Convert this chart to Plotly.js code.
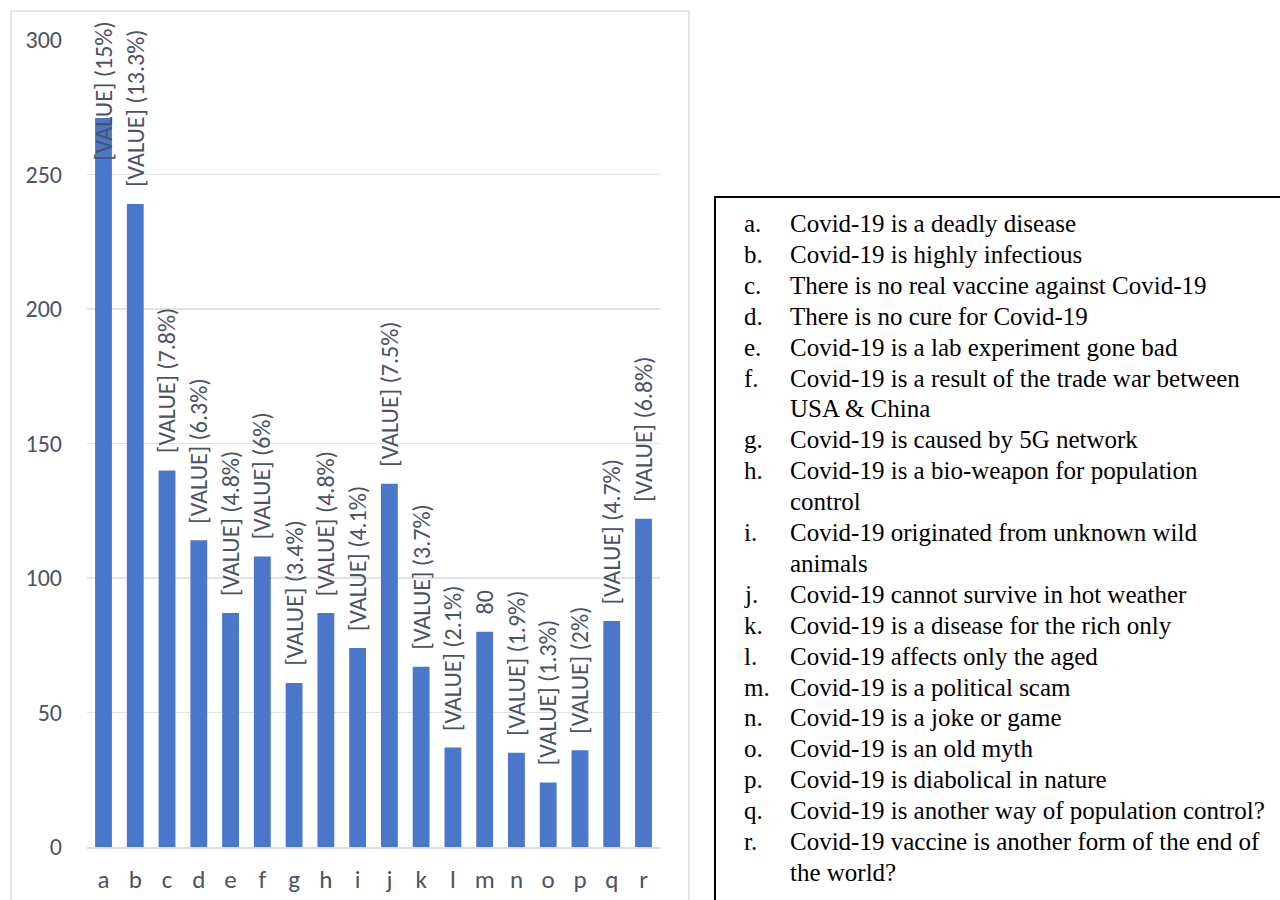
<!DOCTYPE html>
<html>
<head>
<meta charset="utf-8">
<script src="https://cdn.plot.ly/plotly-3.0.1.min.js"></script>
<style>html,body{margin:0;padding:0;background:#fff;}#chart{width:1280px;height:900px;}</style>
</head>
<body>
<div id="chart"></div>
<script>
// ---- data ----
const categories = ["a","b","c","d","e","f","g","h","i","j","k","l","m","n","o","p","q","r"];
const counts = [271,239,140,114,87,108,61,87,74,135,67,37,80,35,24,36,84,122];
const dataLabels = ["[VALUE] (15%)","[VALUE] (13.3%)","[VALUE] (7.8%)","[VALUE] (6.3%)","[VALUE] (4.8%)","[VALUE] (6%)","[VALUE] (3.4%)","[VALUE] (4.8%)","[VALUE] (4.1%)","[VALUE] (7.5%)","[VALUE] (3.7%)","[VALUE] (2.1%)","80","[VALUE] (1.9%)","[VALUE] (1.3%)","[VALUE] (2%)","[VALUE] (4.7%)","[VALUE] (6.8%)"];
const yTicks = [0,50,100,150,200,250,300];
const statements = [
  "Covid-19 is a deadly disease",
  "Covid-19 is highly infectious",
  "There is no real vaccine against Covid-19",
  "There is no cure for Covid-19",
  "Covid-19 is a lab experiment gone bad",
  "Covid-19 is a result of the trade war between\nUSA & China",
  "Covid-19 is caused by 5G network",
  "Covid-19 is a bio-weapon for population\ncontrol",
  "Covid-19 originated from unknown wild\nanimals",
  "Covid-19 cannot survive in hot weather",
  "Covid-19 is a disease for the rich only",
  "Covid-19 affects only the aged",
  "Covid-19 is a political scam",
  "Covid-19 is a joke or game",
  "Covid-19 is an old myth",
  "Covid-19 is diabolical in nature",
  "Covid-19 is another way of population control?",
  "Covid-19 vaccine is another form of the end of\nthe world?"
];

// ---- layout geometry (pixels) ----
const W = 1280, H = 900;
const PL = 87, PR = 660, PT = 40, PB = 847;
const pxX = x => (x - PL) / (PR - PL);
const pxY = y => (PB - y) / (PB - PT);

const tickColor = "#4b5364";
const labelFont = "Carlito, Lato, 'Open Sans', sans-serif";

const annotations = [];
// data labels above bars
categories.forEach((c, i) => {
  annotations.push({
    x: c, y: counts[i], xref: "x", yref: "y",
    text: dataLabels[i], textangle: -90, showarrow: false,
    xanchor: "center", yanchor: "bottom", yshift: 15,
    font: {family: labelFont, size: 24, color: tickColor}
  });
});
const nData = annotations.length;

// statement list in the right-hand box
const serif = "'Liberation Serif', 'Times New Roman', serif";
let row = 0;
const firstRowY = 223.5, rowH = 30.9;
categories.forEach((c, i) => {
  const lines = statements[i].split("\n");
  annotations.push({
    x: pxX(742), y: pxY(firstRowY + row * rowH), xref: "paper", yref: "paper",
    text: c + ".", showarrow: false, xanchor: "left", yanchor: "middle",
    font: {family: serif, size: 25, color: "#000"}
  });
  lines.forEach(line => {
    annotations.push({
      x: pxX(788), y: pxY(firstRowY + row * rowH), xref: "paper", yref: "paper",
      text: line, showarrow: false, xanchor: "left", yanchor: "middle",
      font: {family: serif, size: 25, color: "#000"}
    });
    row++;
  });
});

const shapes = [
  {type: "rect", xref: "paper", yref: "paper", layer: "below",
   x0: pxX(11), x1: pxX(689), y0: pxY(910), y1: pxY(11),
   line: {color: "#dadee6", width: 1.5}, fillcolor: "rgba(0,0,0,0)"},
  {type: "rect", xref: "paper", yref: "paper",
   x0: pxX(715), x1: pxX(1300), y0: pxY(920), y1: pxY(197),
   line: {color: "#000", width: 2}, fillcolor: "rgba(0,0,0,0)"}
];

const trace = {
  type: "bar", x: categories, y: counts,
  marker: {color: "#4a77ca", line: {width: 0}},
  hoverinfo: "x+y"
};

const layout = {
  width: W, height: H,
  margin: {l: PL, r: W - PR, t: PT, b: H - PB, pad: 0},
  paper_bgcolor: "#fff", plot_bgcolor: "#fff",
  showlegend: false, bargap: 0.47,
  font: {family: labelFont, color: tickColor},
  xaxis: {
    type: "category", showgrid: false, zeroline: false,
    showline: true, linecolor: "#d9dde5", linewidth: 2,
    ticks: "", ticklabelstandoff: 9,
    tickfont: {family: labelFont, size: 25, color: tickColor}
  },
  yaxis: {
    range: [0, 300], tickvals: yTicks, showgrid: true,
    gridcolor: "#dfe3ea", gridwidth: 1.5, zeroline: false, showline: false,
    ticks: "", ticklabelstandoff: 24,
    tickfont: {family: labelFont, size: 24, color: tickColor}
  },
  annotations: annotations,
  shapes: shapes
};

Plotly.newPlot("chart", [trace], layout, {displayModeBar: false, staticPlot: true}).then(gd => {
  // keep data labels inside the chart frame (as the original does)
  const upd = {};
  const els = gd.querySelectorAll(".annotation");
  const top0 = gd.getBoundingClientRect().top;
  for (let i = 0; i < nData; i++) {
    const el = els[i];
    if (!el) continue;
    const r = el.getBoundingClientRect();
    const top = r.top - top0;
    if (top < 20) {
      upd["annotations[" + i + "].yshift"] = 15 - (20 - top);
    }
  }
  if (Object.keys(upd).length) Plotly.relayout(gd, upd);
});
</script>
</body>
</html>
